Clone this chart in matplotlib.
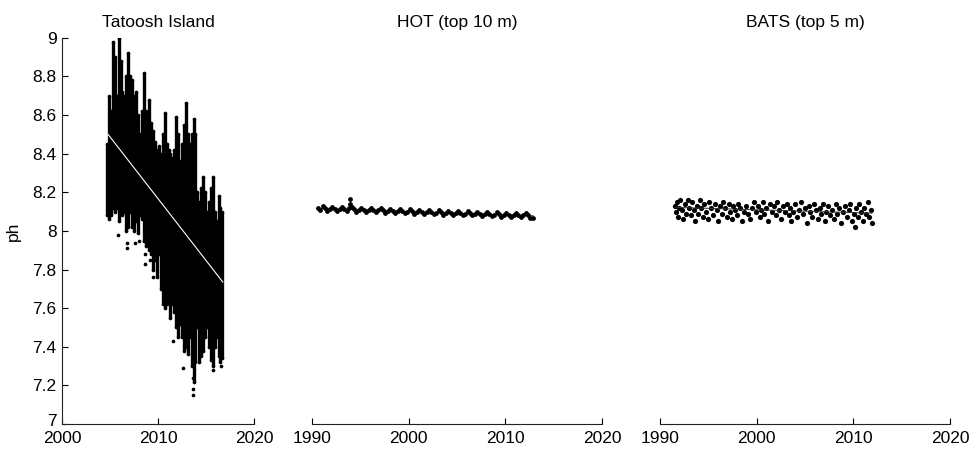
import matplotlib.pyplot as plt
import matplotlib.transforms as mtransforms
import numpy as np

plt.rcParams['font.family'] = ['Liberation Sans', 'DejaVu Sans']

# ---------------- data ----------------
# Tatoosh Island: dense record, kept as low/high envelope per ~0.2 yr slice
tat_year = [2004.7, 2004.9, 2005.1, 2005.3, 2005.5, 2005.7, 2005.9, 2006.1, 2006.3, 2006.5,
            2006.7, 2006.9, 2007.1, 2007.3, 2007.5, 2007.7, 2007.9, 2008.1, 2008.3, 2008.5,
            2008.7, 2008.9, 2009.1, 2009.3, 2009.5, 2009.7, 2009.9, 2010.1, 2010.3, 2010.5,
            2010.7, 2010.9, 2011.1, 2011.3, 2011.5, 2011.7, 2011.9, 2012.1, 2012.3, 2012.5,
            2012.7, 2012.9, 2013.1, 2013.3, 2013.5, 2013.7, 2013.9, 2014.1, 2014.3, 2014.5,
            2014.7, 2014.9, 2015.1, 2015.3, 2015.5, 2015.7, 2015.9, 2016.1, 2016.3, 2016.5,
            2016.7]
tat_high = [8.45, 8.70, 8.62, 8.98, 8.90, 8.70, 9.00, 8.88, 8.72, 8.70,
            8.80, 8.92, 8.80, 8.78, 8.70, 8.72, 8.60, 8.50, 8.62, 8.82,
            8.62, 8.55, 8.68, 8.56, 8.52, 8.46, 8.42, 8.44, 8.40, 8.50,
            8.61, 8.45, 8.42, 8.40, 8.38, 8.42, 8.59, 8.50, 8.36, 8.45,
            8.55, 8.66, 8.50, 8.45, 8.50, 8.58, 8.50, 8.20, 8.15, 8.22,
            8.28, 8.20, 8.10, 8.15, 8.22, 8.28, 8.10, 8.05, 8.18, 8.12,
            8.10]
tat_low = [8.08, 8.06, 8.08, 8.12, 8.10, 8.12, 8.05, 8.10, 8.08, 8.10,
           8.00, 8.02, 8.10, 8.02, 8.00, 8.05, 7.99, 8.08, 8.06, 7.95,
           7.92, 7.98, 7.90, 7.88, 7.80, 7.85, 7.76, 7.88, 7.70, 7.62,
           7.60, 7.62, 7.68, 7.55, 7.62, 7.58, 7.50, 7.45, 7.52, 7.45,
           7.38, 7.40, 7.36, 7.45, 7.30, 7.22, 7.32, 7.50, 7.32, 7.35,
           7.38, 7.45, 7.50, 7.40, 7.33, 7.30, 7.40, 7.45, 7.35, 7.32,
           7.34]
tat_out_year = [2005.85, 2006.75, 2006.8, 2007.6, 2008.0, 2008.6, 2008.6, 2009.2, 2009.5,
                2011.6, 2012.6, 2013.6, 2013.6, 2013.6, 2015.7, 2016.6]
tat_out_ph = [7.98, 7.94, 7.91, 7.94, 7.95, 7.88, 7.83, 7.85, 7.76,
              7.43, 7.29, 7.18, 7.15, 7.24, 7.28, 7.30]
tat_trend_year = [2004.8, 2016.75]
tat_trend_ph = [8.50, 7.735]

# HOT (top 10 m), roughly quarterly values
hot_year = [1990.6, 1990.85,
            1991.1, 1991.35, 1991.6, 1991.85, 1992.1, 1992.35, 1992.6, 1992.85,
            1993.1, 1993.35, 1993.6, 1993.85, 1994.1, 1994.35, 1994.6, 1994.85,
            1995.1, 1995.35, 1995.6, 1995.85, 1996.1, 1996.35, 1996.6, 1996.85,
            1997.1, 1997.35, 1997.6, 1997.85, 1998.1, 1998.35, 1998.6, 1998.85,
            1999.1, 1999.35, 1999.6, 1999.85, 2000.1, 2000.35, 2000.6, 2000.85,
            2001.1, 2001.35, 2001.6, 2001.85, 2002.1, 2002.35, 2002.6, 2002.85,
            2003.1, 2003.35, 2003.6, 2003.85, 2004.1, 2004.35, 2004.6, 2004.85,
            2005.1, 2005.35, 2005.6, 2005.85, 2006.1, 2006.35, 2006.6, 2006.85,
            2007.1, 2007.35, 2007.6, 2007.85, 2008.1, 2008.35, 2008.6, 2008.85,
            2009.1, 2009.35, 2009.6, 2009.85, 2010.1, 2010.35, 2010.6, 2010.85,
            2011.1, 2011.35, 2011.6, 2011.85, 2012.1, 2012.35, 2012.6, 2012.85,
            1993.9, 1993.95]
hot_ph = [8.118, 8.110,
          8.127, 8.117, 8.105, 8.113, 8.124, 8.114, 8.102, 8.111,
          8.123, 8.113, 8.101, 8.118, 8.122, 8.111, 8.100, 8.108,
          8.120, 8.110, 8.098, 8.107, 8.119, 8.109, 8.097, 8.106,
          8.117, 8.107, 8.095, 8.104, 8.116, 8.105, 8.094, 8.102,
          8.114, 8.104, 8.092, 8.100, 8.112, 8.102, 8.090, 8.099,
          8.110, 8.100, 8.088, 8.097, 8.108, 8.099, 8.087, 8.095,
          8.107, 8.097, 8.085, 8.094, 8.105, 8.095, 8.083, 8.092,
          8.103, 8.093, 8.081, 8.090, 8.101, 8.091, 8.080, 8.088,
          8.100, 8.090, 8.078, 8.087, 8.098, 8.088, 8.076, 8.085,
          8.096, 8.086, 8.074, 8.083, 8.094, 8.084, 8.073, 8.081,
          8.093, 8.083, 8.071, 8.080, 8.091, 8.081, 8.069, 8.066,
          8.165, 8.142]
hot_trend_year = [1990.6, 2012.9]
hot_trend_ph = [8.117, 8.078]

# BATS (top 5 m)
bats_year = [1991.6, 1991.7, 1991.8, 1991.9, 1992.0, 1992.1, 1992.3, 1992.4, 1992.6, 1992.7,
             1992.9, 1993.0, 1993.2, 1993.3, 1993.5, 1993.6, 1993.8, 1993.9, 1994.1, 1994.2,
             1994.4, 1994.6, 1994.8, 1995.0, 1995.1, 1995.3, 1995.5, 1995.7, 1995.9, 1996.0,
             1996.2, 1996.4, 1996.5, 1996.7, 1996.9, 1997.1, 1997.2, 1997.4, 1997.6, 1997.8,
             1998.0, 1998.1, 1998.3, 1998.5, 1998.7, 1998.9, 1999.1, 1999.3, 1999.5, 1999.7,
             1999.9, 2000.1, 2000.3, 2000.5, 2000.7, 2000.8, 2001.0, 2001.2, 2001.4, 2001.6,
             2001.8, 2002.0, 2002.1, 2002.3, 2002.5, 2002.7, 2002.9, 2003.1, 2003.3, 2003.4,
             2003.6, 2003.8, 2004.0, 2004.2, 2004.4, 2004.6, 2004.8, 2005.0, 2005.2, 2005.4,
             2005.5, 2005.7, 2005.9, 2006.1, 2006.3, 2006.5, 2006.7, 2006.9, 2007.1, 2007.2,
             2007.4, 2007.6, 2007.8, 2008.0, 2008.2, 2008.3, 2008.5, 2008.7, 2008.9, 2009.1,
             2009.3, 2009.5, 2009.7, 2009.9, 2010.1, 2010.2, 2010.3, 2010.5, 2010.6, 2010.8,
             2011.0, 2011.1, 2011.3, 2011.5, 2011.6, 2011.8, 2011.9]
bats_ph = [8.13, 8.10, 8.15, 8.07, 8.12, 8.16, 8.11, 8.06, 8.14, 8.09,
           8.16, 8.12, 8.08, 8.15, 8.11, 8.05, 8.13, 8.09, 8.16, 8.12,
           8.07, 8.14, 8.10, 8.06, 8.15, 8.12, 8.08, 8.14, 8.11, 8.05,
           8.13, 8.09, 8.15, 8.12, 8.07, 8.14, 8.10, 8.06, 8.13, 8.11,
           8.08, 8.14, 8.12, 8.05, 8.10, 8.13, 8.09, 8.06, 8.12, 8.15,
           8.10, 8.13, 8.07, 8.11, 8.15, 8.09, 8.12, 8.05, 8.14, 8.10,
           8.13, 8.08, 8.15, 8.11, 8.06, 8.13, 8.10, 8.14, 8.08, 8.12,
           8.05, 8.10, 8.14, 8.07, 8.11, 8.15, 8.09, 8.12, 8.04, 8.13,
           8.10, 8.07, 8.14, 8.11, 8.06, 8.12, 8.09, 8.14, 8.05, 8.10,
           8.13, 8.08, 8.11, 8.06, 8.14, 8.09, 8.12, 8.04, 8.10, 8.13,
           8.07, 8.11, 8.14, 8.05, 8.09, 8.02, 8.12, 8.07, 8.14, 8.10,
           8.05, 8.12, 8.09, 8.15, 8.07, 8.11, 8.04]
bats_trend_year = [1991.6, 2011.9]
bats_trend_ph = [8.122, 8.092]

yticks = [7, 7.2, 7.4, 7.6, 7.8, 8, 8.2, 8.4, 8.6, 8.8, 9]
ytick_labels = ['7', '7.2', '7.4', '7.6', '7.8', '8', '8.2', '8.4', '8.6', '8.8', '9']

# ---------------- figure ----------------
fig = plt.figure(figsize=(9.7, 4.49), dpi=100)
ax1 = fig.add_axes([0.0639, 0.0557, 0.198, 0.860])
ax2 = fig.add_axes([0.3216, 0.0557, 0.299, 0.860])
ax3 = fig.add_axes([0.6804, 0.0557, 0.299, 0.860])

ax1.vlines(tat_year, tat_low, tat_high, color='black', linewidth=2.4)
ax1.scatter(tat_year, tat_high, s=7, color='black', linewidths=0)
ax1.scatter(tat_year, tat_low, s=7, color='black', linewidths=0)
ax1.scatter(tat_out_year, tat_out_ph, s=7, color='black', linewidths=0)
ax1.plot(tat_trend_year, tat_trend_ph, color='white', linewidth=0.8)
ax1.set_xlim(2000, 2020)
ax1.set_xticks([2000, 2010, 2020])

ax2.scatter(hot_year, hot_ph, s=12, color='black', linewidths=0)
ax2.plot(hot_trend_year, hot_trend_ph, color='black', linewidth=0.6)
ax2.set_xlim(1990, 2020)
ax2.set_xticks([1990, 2000, 2010, 2020])

ax3.scatter(bats_year, bats_ph, s=14, color='black', linewidths=0)
ax3.plot(bats_trend_year, bats_trend_ph, color='#333333', linewidth=0.7)
ax3.set_xlim(1990, 2020)
ax3.set_xticks([1990, 2000, 2010, 2020])

titles = ['Tatoosh Island', 'HOT (top 10 m)', 'BATS (top 5 m)']
for ax, title in zip([ax1, ax2, ax3], titles):
    ax.set_ylim(7, 9)
    ax.set_title(title, fontsize=12.5, pad=8)
    for side in ['top', 'right']:
        ax.spines[side].set_visible(False)
    ax.spines['bottom'].set_color('#222222')
    ax.spines['bottom'].set_linewidth(0.8)
    ax.tick_params(axis='x', direction='in', length=4, width=0.8, labelsize=12.5, pad=5)

ax1.spines['left'].set_color('#222222')
ax1.spines['left'].set_linewidth(0.8)
ax1.set_yticks(yticks)
ax1.set_yticklabels(ytick_labels)
ax1.tick_params(axis='y', direction='in', length=4, width=0.8, labelsize=12.5, pad=4)
ax1.set_ylabel('ph', fontsize=12.5, labelpad=8)

# the lowest y label sits right on the x labels; lift it a touch
lbl7 = ax1.get_yticklabels()[0]
lbl7.set_transform(lbl7.get_transform() +
                   mtransforms.ScaledTranslation(0, 3 / 72, fig.dpi_scale_trans))

for ax in [ax2, ax3]:
    ax.spines['left'].set_visible(False)
    ax.set_yticks([])

fig.savefig('out.png', dpi=100)
